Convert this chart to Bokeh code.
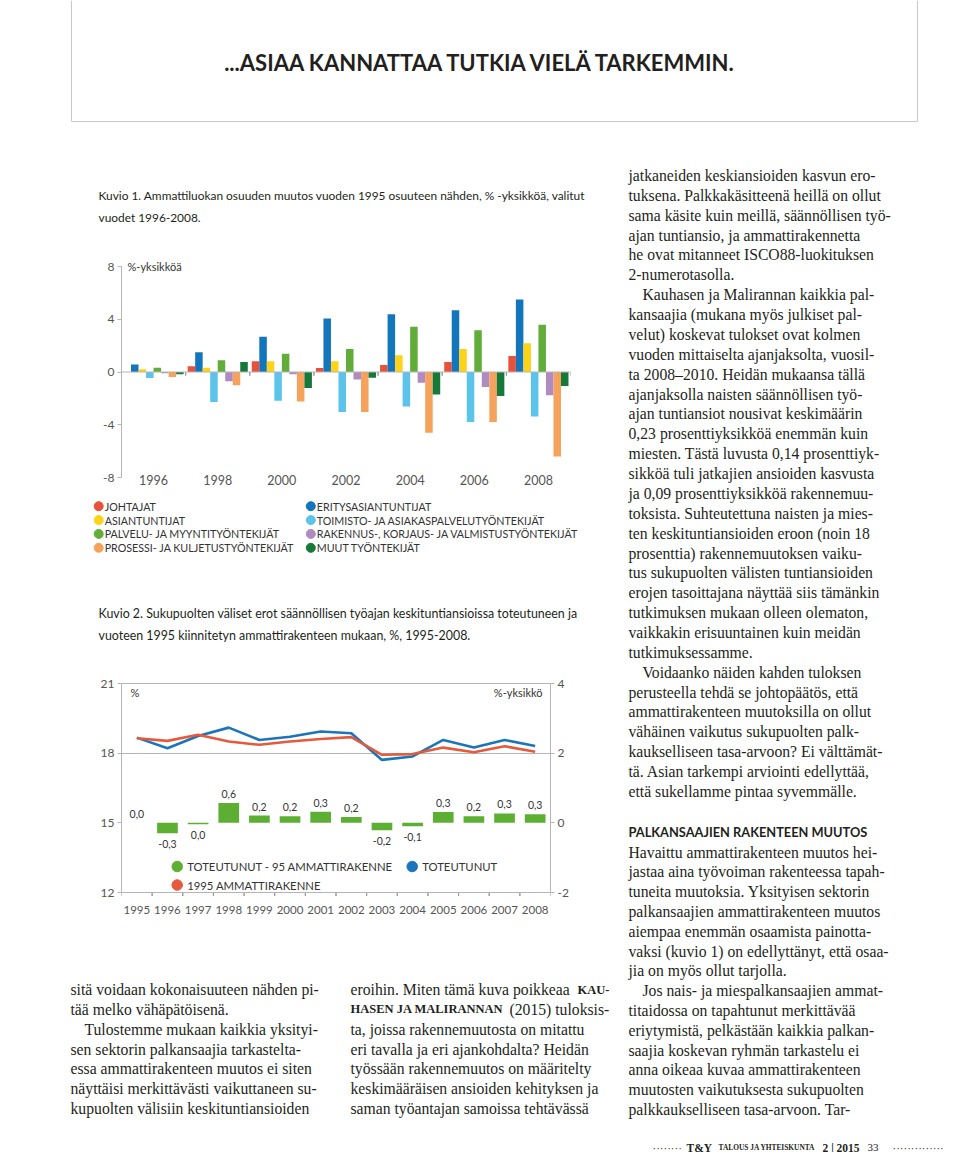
from bokeh.plotting import figure
from bokeh.layouts import column, row
from bokeh.models import (ColumnDataSource, Range1d, FactorRange, FixedTicker, LinearAxis,
                          Span, Label, PrintfTickFormatter)
from bokeh.transform import dodge
from bokeh.core.properties import value
from bokeh.embed import file_html
from bokeh.resources import INLINE

# ---------------- Kuvio 1 data ----------------
years1 = ["1996", "1998", "2000", "2002", "2004", "2006", "2008"]
groups1 = ["JOHTAJAT", "ERITYSASIANTUNTIJAT", "ASIANTUNTIJAT",
           "TOIMISTO- JA ASIAKASPALVELUTYÖNTEKIJÄT", "PALVELU- JA MYYNTITYÖNTEKIJÄT",
           "RAKENNUS-, KORJAUS- JA VALMISTUSTYÖNTEKIJÄT", "PROSESSI- JA KULJETUSTYÖNTEKIJÄT",
           "MUUT TYÖNTEKIJÄT"]
johtajat = [0.0, 0.43, 0.81, 0.30, 0.53, 0.76, 1.22]
erityisasiantuntijat = [0.56, 1.49, 2.68, 4.05, 4.38, 4.68, 5.49]
asiantuntijat = [0.20, 0.33, 0.81, 0.81, 1.27, 1.75, 2.18]
toimisto = [-0.46, -2.28, -2.18, -3.04, -2.61, -3.80, -3.37]
palvelu = [0.33, 0.89, 1.39, 1.75, 3.44, 3.16, 3.59]
rakennus = [-0.10, -0.71, -0.18, -0.56, -0.81, -1.14, -1.77]
prosessi = [-0.38, -1.01, -2.23, -3.04, -4.61, -3.80, -6.41]
muut = [-0.18, 0.76, -1.22, -0.43, -1.70, -1.82, -1.06]
series1 = [johtajat, erityisasiantuntijat, asiantuntijat, toimisto, palvelu, rakennus, prosessi, muut]
ticks1 = [-8, -4, 0, 4, 8]

# ---------------- Kuvio 2 data ----------------
years2 = ["1995", "1996", "1997", "1998", "1999", "2000", "2001",
          "2002", "2003", "2004", "2005", "2006", "2007", "2008"]
toteutunut = [18.67, 18.21, 18.74, 19.10, 18.57, 18.71, 18.93,
              18.86, 17.71, 17.86, 18.57, 18.24, 18.57, 18.31]
rakenne1995 = [18.64, 18.53, 18.79, 18.50, 18.36, 18.50, 18.61,
               18.69, 17.93, 17.96, 18.24, 18.04, 18.30, 18.06]
erotus = [0.0, -0.30, -0.04, 0.57, 0.21, 0.19, 0.32,
          0.17, -0.21, -0.10, 0.31, 0.19, 0.27, 0.25]
erotus_labels = ["0,0", "-0,3", "0,0", "0,6", "0,2", "0,2", "0,3",
                 "0,2", "-0,2", "-0,1", "0,3", "0,2", "0,3", "0,3"]
names2 = ["TOTEUTUNUT - 95 AMMATTIRAKENNE", "TOTEUTUNUT", "1995 AMMATTIRAKENNE"]
ticks2_left = [12, 15, 18, 21]
ticks2_right = [-2, 0, 2, 4]

# ---------------- styles ----------------
SANS = "Lato"
SERIF = "Liberation Serif"
INK = "#231f20"
TICKC = "#555555"
AXC = "#b5b5b5"
colors1 = ["#e8523b", "#1375bc", "#fcd317", "#5cc3ea", "#62ad3a", "#b08bc2", "#f5a25d", "#16793a"]
GREEN2, BLUE2, RED2 = "#5daf34", "#1c75bb", "#e55a3d"
colors2 = [GREEN2, BLUE2, RED2]
BODY = 15.7


def no_align(p):
    if "frame_align" in p.properties():
        p.frame_align = False
    return p


def canvas(x0, y0, w, h):
    p = figure(width=w, height=h, x_range=Range1d(x0, x0 + w), y_range=Range1d(y0 + h, y0),
               output_backend="svg", toolbar_location=None,
               x_axis_location=None, y_axis_location=None,
               min_border_left=0, min_border_right=0, min_border_top=0, min_border_bottom=0)
    p.xgrid.visible = False
    p.ygrid.visible = False
    p.outline_line_color = None
    return no_align(p)


def write(p, lines, x, y0, dy, size, font=SERIF, style="normal", color=INK, indent=(), ind=14):
    xs = [x + (ind if i in indent else 0) for i in range(len(lines))]
    ys = [y0 + dy * i for i in range(len(lines))]
    p.text(x=xs, y=ys, text=lines, text_font=value(font), text_font_size=f"{size}px",
           text_font_style=style, text_color=color, text_baseline="middle", text_align="left")


def style_axis(ax, size="11.5px"):
    ax.axis_line_color = AXC
    ax.major_tick_line_color = AXC
    ax.major_tick_in = 0
    ax.major_tick_out = 4
    ax.minor_tick_line_color = None
    ax.major_label_text_font = SANS
    ax.major_label_text_font_size = size
    ax.major_label_text_color = TICKC
    ax.major_label_standoff = 3


LEFT_W, RIGHT_W = 612, 344
TOP_H = 160

# ---------------- page head ----------------
top = canvas(0, 0, LEFT_W + RIGHT_W, TOP_H)
top.segment(x0=[71, 71, 917], y0=[0, 121, 0], x1=[71, 917, 917], y1=[121, 121, 121],
            line_color="#c8c8c8", line_width=1)
top.text(x=[481], y=[62], text=["...ASIAA KANNATTAA TUTKIA VIELÄ TARKEMMIN."],
         text_font=value(SANS), text_font_style="bold", text_font_size="22px",
         text_color=INK, text_align="center", text_baseline="middle")

# ---------------- caption 1 ----------------
cap1 = canvas(0, TOP_H, LEFT_W, 255 - TOP_H)
write(cap1, ["Kuvio 1. Ammattiluokan osuuden muutos vuoden 1995 osuuteen nähden, % -yksikköä, valitut",
             "vuodet 1996-2008."], 98, 195, 21.7, 11.9, font=SANS)

# ---------------- chart 1 ----------------
F1_L, F1_R, F1_T, F1_B = 121, 570, 255, 495
Y_TOP_PX, Y_BOT_PX = 266, 477
s1 = (Y_BOT_PX - Y_TOP_PX) / (ticks1[-1] - ticks1[0])
cell1 = (F1_R - F1_L) / len(years1)
c1 = figure(width=LEFT_W, height=F1_B - F1_T,
            x_range=FactorRange(factors=years1, range_padding=0, factor_padding=0),
            y_range=Range1d(ticks1[0] - (F1_B - Y_BOT_PX) / s1, ticks1[-1] + (Y_TOP_PX - F1_T) / s1),
            output_backend="svg", toolbar_location=None, x_axis_location=None,
            min_border_left=F1_L, min_border_right=LEFT_W - F1_R,
            min_border_top=0, min_border_bottom=0)
no_align(c1)
c1.outline_line_color = None
c1.xgrid.visible = False
c1.ygrid.visible = False
ya = c1.yaxis[0]
ya.ticker = FixedTicker(ticks=ticks1)
ya.formatter = PrintfTickFormatter(format="%d")
ya.bounds = (ticks1[0], ticks1[-1])
style_axis(ya, "12px")
c1.add_layout(Span(location=0, dimension="width", line_color=AXC, line_width=1))
ysrc = ColumnDataSource(dict(year=years1))
for side in (-0.5, 0.5):
    c1.segment(x0=dodge("year", side, range=c1.x_range), x1=dodge("year", side, range=c1.x_range),
               y0=-0.28, y1=0.0, source=ysrc, line_color="#9a9a9a", line_width=1)
bw = 0.1172
for k, (vals, col) in enumerate(zip(series1, colors1)):
    src = ColumnDataSource(dict(year=years1, val=vals))
    c1.vbar(x=dodge("year", (k - 3.5) * bw, range=c1.x_range), top="val", bottom=0,
            width=bw, fill_color=col, line_color=None, source=src)
c1.text(x="year", y=ticks1[0], text="year", source=ysrc, text_font=value(SANS),
        text_font_size="12.5px", text_color=TICKC, text_align="center",
        text_baseline="middle", y_offset=2)
c1.add_layout(Label(x=(127 - F1_L) / cell1, y=ticks1[-1], text="%-yksikköä",
                    text_font=SANS, text_font_size="11px", text_color="#333333",
                    text_baseline="middle"))

# ---------------- legend 1 ----------------
leg1 = canvas(0, 495, LEFT_W, 65)
lx1 = [98.2, 310.3]
lrow1 = 13.87
lg_x = [lx1[i % 2] for i in range(len(groups1))]
lg_y = [505.7 + lrow1 * (i // 2) for i in range(len(groups1))]
leg1.scatter(x=lg_x, y=lg_y, size=9, marker="circle", fill_color=colors1, line_color=colors1)
leg1.text(x=lg_x, y=lg_y, text=groups1, x_offset=6, text_font=value(SANS),
          text_font_size="10.7px", text_color="#333333", text_baseline="middle")

# ---------------- caption 2 ----------------
cap2 = canvas(0, 560, LEFT_W, 108)
write(cap2, ["Kuvio 2. Sukupuolten väliset erot säännöllisen työajan keskituntiansioissa toteutuneen ja",
             "vuoteen 1995 kiinnitetyn ammattirakenteen mukaan, %, 1995-2008."], 98, 613.3, 21.7, 12.4,
      font=SANS)

# ---------------- chart 2 ----------------
F2_L, F2_R, F2_T, F2_B = 121, 550, 682, 896
Y21_PX, Y12_PX = 683, 892
s2 = (Y12_PX - Y21_PX) / (ticks2_left[-1] - ticks2_left[0])
cell2 = (F2_R - F2_L) / len(years2)
ytop2 = ticks2_left[-1] + (Y21_PX - F2_T) / s2
ybot2 = ticks2_left[0] - (F2_B - Y12_PX) / s2
c2 = figure(width=LEFT_W, height=925 - 668,
            x_range=FactorRange(factors=years2, range_padding=0, factor_padding=0),
            y_range=Range1d(ybot2, ytop2),
            output_backend="svg", toolbar_location=None,
            min_border_left=F2_L, min_border_right=LEFT_W - F2_R,
            min_border_top=F2_T - 668, min_border_bottom=925 - F2_B)
no_align(c2)
c2.outline_line_color = None
c2.xgrid.visible = False
rr = ticks2_right
ratio = (rr[-1] - rr[0]) / (ticks2_left[-1] - ticks2_left[0])
c2.extra_y_ranges = {"right": Range1d(rr[0] - (ticks2_left[0] - ybot2) * ratio,
                                      rr[-1] + (ytop2 - ticks2_left[-1]) * ratio),
                     "py": Range1d(F2_B, F2_T)}
la = c2.yaxis[0]
la.ticker = FixedTicker(ticks=ticks2_left)
la.formatter = PrintfTickFormatter(format="%d")
la.bounds = (ticks2_left[0], ticks2_left[-1])
style_axis(la, "12px")
c2.ygrid.ticker = FixedTicker(ticks=[18, 21])
c2.ygrid.grid_line_color = AXC
ra = LinearAxis(y_range_name="right", ticker=FixedTicker(ticks=ticks2_right),
                formatter=PrintfTickFormatter(format="%d"), bounds=(rr[0], rr[-1]))
style_axis(ra, "12px")
c2.add_layout(ra, "right")
xa = c2.xaxis[0]
style_axis(xa, "11.5px")
xa.axis_line_color = None
xa.major_tick_line_color = None
xa.major_tick_out = 0
xa.major_label_standoff = 9
c2.add_layout(Span(location=ticks2_left[0], dimension="width", line_color=AXC, line_width=1))
ysrc2 = ColumnDataSource(dict(year=years2))
for side in (-0.5, 0.5):
    c2.segment(x0=dodge("year", side, range=c2.x_range), x1=dodge("year", side, range=c2.x_range),
               y0=ticks2_left[0], y1=ticks2_left[0] - 3.5 / s2, source=ysrc2,
               line_color="#9a9a9a", line_width=1)

src2 = ColumnDataSource(dict(year=years2, tot=toteutunut, r95=rakenne1995, ero=erotus,
                             lab=erotus_labels,
                             off=[-9 if v >= 0 else 11 for v in erotus]))
c2.vbar(x="year", top="ero", bottom=0, width=0.675, y_range_name="right",
        fill_color=GREEN2, line_color=None, source=src2)
c2.line(x="year", y="tot", line_color=BLUE2, line_width=2.6, source=src2)
c2.line(x="year", y="r95", line_color=RED2, line_width=2.6, source=src2)
c2.text(x="year", y="ero", text="lab", y_offset="off", y_range_name="right", source=src2,
        text_font=value(SANS), text_font_size="10.5px", text_color="#333333",
        text_align="center", text_baseline="middle")


def sx2(px):
    return (px - F2_L) / cell2


c2.add_layout(Label(x=sx2(130), y=691.7, y_range_name="py", text="%",
                    text_font=SANS, text_font_size="11px", text_color="#333333",
                    text_baseline="middle"))
c2.add_layout(Label(x=sx2(542), y=691.7, y_range_name="py", text="%-yksikkö",
                    text_font=SANS, text_font_size="11px", text_color="#333333",
                    text_baseline="middle", text_align="right"))
lx2 = [sx2(176.7), sx2(411.7)]
ly2 = [866, 884.5]
l2x = [lx2[i % 2] for i in range(len(names2))]
l2y = [ly2[i // 2] for i in range(len(names2))]
c2.scatter(x=l2x, y=l2y, y_range_name="py", size=10.5, marker="circle",
           fill_color=colors2, line_color=colors2)
c2.text(x=l2x, y=l2y, text=names2, y_range_name="py", x_offset=10,
        text_font=value(SANS), text_font_size="11.3px", text_color="#333333",
        text_baseline="middle")

# ---------------- body text under the charts ----------------
BOT_H = 227
bot = canvas(0, 925, LEFT_W, BOT_H)
col_a = ["sitä voidaan kokonaisuuteen nähden pi-",
         "tää melko vähäpätöisenä.",
         "Tulostemme mukaan kaikkia yksityi-",
         "sen sektorin palkansaajia tarkastelta-",
         "essa ammattirakenteen muutos ei siten",
         "näyttäisi merkittävästi vaikuttaneen su-",
         "kupuolten välisiin keskituntiansioiden"]
write(bot, col_a, 70, 989, 19.85, BODY, indent=(2,))
col_b = ["eroihin. Miten tämä kuva poikkeaa",
         "",
         "ta, joissa rakennemuutosta on mitattu",
         "eri tavalla ja eri ajankohdalta? Heidän",
         "työssään rakennemuutos on määritelty",
         "keskimääräisen ansioiden kehityksen ja",
         "saman työantajan samoissa tehtävässä"]
write(bot, col_b, 350, 989, 19.85, BODY)
bot.text(x=[577, 350], y=[989, 1008.85], text=["KAU-", "HASEN JA MALIRANNAN"],
         text_font=value(SERIF), text_font_style="bold", text_font_size="12.5px",
         text_color=INK, text_baseline="middle")
write(bot, ["(2015) tuloksis-"], 509, 1008.85, 19.85, BODY)

# ---------------- right column ----------------
right = canvas(LEFT_W, TOP_H, RIGHT_W, 925 - TOP_H + BOT_H)
col_c = ["jatkaneiden keskiansioiden kasvun ero-",
         "tuksena. Palkkakäsitteenä heillä on ollut",
         "sama käsite kuin meillä, säännöllisen työ-",
         "ajan tuntiansio, ja ammattirakennetta",
         "he ovat mitanneet ISCO88-luokituksen",
         "2-numerotasolla.",
         "Kauhasen ja Malirannan kaikkia pal-",
         "kansaajia (mukana myös julkiset pal-",
         "velut) koskevat tulokset ovat kolmen",
         "vuoden mittaiselta ajanjaksolta, vuosil-",
         "ta 2008–2010. Heidän mukaansa tällä",
         "ajanjaksolla naisten säännöllisen työ-",
         "ajan tuntiansiot nousivat keskimäärin",
         "0,23 prosenttiyksikköä enemmän kuin",
         "miesten. Tästä luvusta 0,14 prosenttiyk-",
         "sikköä tuli jatkajien ansioiden kasvusta",
         "ja 0,09 prosenttiyksikköä rakennemuu-",
         "toksista. Suhteutettuna naisten ja mies-",
         "ten keskituntiansioiden eroon (noin 18",
         "prosenttia) rakennemuutoksen vaiku-",
         "tus sukupuolten välisten tuntiansioiden",
         "erojen tasoittajana näyttää siis tämänkin",
         "tutkimuksen mukaan olleen olematon,",
         "vaikkakin erisuuntainen kuin meidän",
         "tutkimuksessamme.",
         "Voidaanko näiden kahden tuloksen",
         "perusteella tehdä se johtopäätös, että",
         "ammattirakenteen muutoksilla on ollut",
         "vähäinen vaikutus sukupuolten palk-",
         "kaukselliseen tasa-arvoon? Ei välttämät-",
         "tä. Asian tarkempi arviointi edellyttää,",
         "että sukellamme pintaa syvemmälle."]
write(right, col_c, 628, 175, 19.87, BODY, indent=(6, 25))
right.text(x=[628], y=[831.7], text=["PALKANSAAJIEN RAKENTEEN MUUTOS"], text_font=value(SANS),
           text_font_style="bold", text_font_size="12.8px", text_color=INK, text_baseline="middle")
col_d = ["Havaittu ammattirakenteen muutos hei-",
         "jastaa aina työvoiman rakenteessa tapah-",
         "tuneita muutoksia. Yksityisen sektorin",
         "palkansaajien ammattirakenteen muutos",
         "aiempaa enemmän osaamista painotta-",
         "vaksi (kuvio 1) on edellyttänyt, että osaa-",
         "jia on myös ollut tarjolla.",
         "Jos nais- ja miespalkansaajien ammat-",
         "titaidossa on tapahtunut merkittävää",
         "eriytymistä, pelkästään kaikkia palkan-",
         "saajia koskevan ryhmän tarkastelu ei",
         "anna oikeaa kuvaa ammattirakenteen",
         "muutosten vaikutuksesta sukupuolten",
         "palkkaukselliseen tasa-arvoon. Tar-"]
write(right, col_d, 628, 851.5, 19.8, BODY, indent=(7,))
# footer
right.text(x=[652, 686, 718, 822, 867, 892], y=[1147] * 6,
           text=["········", "T&Y", "TALOUS JA YHTEISKUNTA", "2 | 2015", "33", "··············"],
           text_font=value(SERIF),
           text_font_style=["normal", "bold", "bold", "bold", "normal", "normal"],
           text_font_size=["11px", "11.5px", "7.4px", "11.5px", "11px", "11px"],
           text_color=INK, text_baseline="middle")

layout = column(top, row(column(cap1, c1, leg1, cap2, c2, bot), right))
open("out.html", "w").write(file_html(layout, INLINE))
